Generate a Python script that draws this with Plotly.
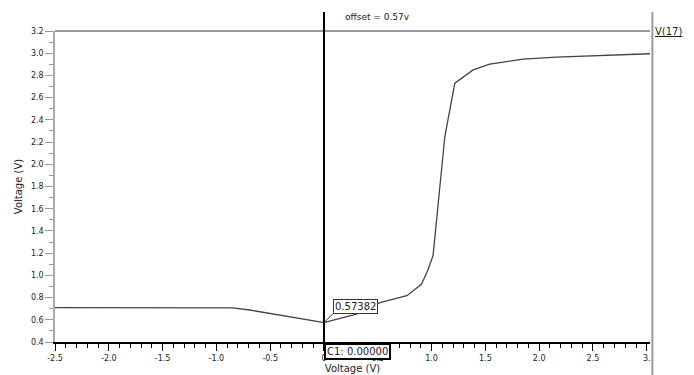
import plotly.graph_objects as go

# Data
sweep_v = [-2.5, -0.85, -0.69, -0.41, -0.23, 0.0, 0.15, 0.30, 0.52, 0.77, 0.906, 0.967,
           1.014, 1.061, 1.123, 1.216, 1.386, 1.54, 1.85, 2.16, 2.63, 3.03]
out_v = [0.71, 0.707, 0.688, 0.643, 0.613, 0.574, 0.613, 0.65, 0.754, 0.817, 0.92, 1.05,
         1.18, 1.65, 2.25, 2.73, 2.85, 2.902, 2.947, 2.965, 2.98, 2.995]
x_tick_vals = [-2.5, -2.0, -1.5, -1.0, -0.5, 0.0, 0.5, 1.0, 1.5, 2.0, 2.5, 3.0]
x_tick_text = ["-2.5", "-2.0", "-1.5", "-1.0", "-0.5", "0", "0.5", "1.0", "1.5", "2.0", "2.5", "3."]
y_tick_vals = [0.4, 0.6, 0.8, 1.0, 1.2, 1.4, 1.6, 1.8, 2.0, 2.2, 2.4, 2.6, 2.8, 3.0, 3.2]
cursor_x = 0.0
cursor_y = 0.57382
trace_name = "V(17)"

FONT = "DejaVu Sans"

fig = go.Figure()
fig.add_trace(go.Scatter(x=sweep_v, y=out_v, mode="lines",
                         line=dict(color="#444444", width=1.3),
                         name=trace_name, showlegend=False, hoverinfo="skip"))

fig.update_layout(
    width=686, height=367,
    margin=dict(l=47, r=44, t=23, b=33, autoexpand=False),
    paper_bgcolor="white", plot_bgcolor="white",
    font=dict(family=FONT, size=8, color="#222222"),
    xaxis=dict(range=[-2.5, 3.03], tickvals=x_tick_vals, ticktext=x_tick_text,
               automargin=False,
               ticks="outside", ticklen=7, tickcolor="black", tickwidth=1,
               showline=True, linecolor="black", linewidth=2,
               showgrid=False, zeroline=False,
               tickfont=dict(family=FONT, size=8, color="#222222"),
               minor=dict(dtick=0.1, tick0=-2.5, ticks="outside", ticklen=4,
                          tickcolor="black", showgrid=False),
               title=dict(text="Voltage (V)", standoff=1,
                          font=dict(family=FONT, size=10, color="#222222"))),
    yaxis=dict(range=[0.4, 3.2], tickvals=y_tick_vals, tickformat=".1f",
               automargin=False,
               ticks="outside", ticklen=8, tickcolor="#999999", tickwidth=1,
               showline=True, linecolor="#aaaaaa", linewidth=1.5,
               showgrid=False, zeroline=False,
               tickfont=dict(family=FONT, size=8, color="#222222"),
               minor=dict(dtick=0.1, tick0=0.4, ticks="outside", ticklen=4,
                          tickcolor="#999999", showgrid=False),
               title=dict(text="Voltage (V)", standoff=6,
                          font=dict(family=FONT, size=10, color="#222222"))),
)

# top border line
fig.add_shape(type="line", xref="paper", yref="paper", x0=0, x1=1, y0=1, y1=1,
              line=dict(color="#777777", width=1.5))
# right border line
fig.add_shape(type="line", xref="paper", yref="paper", x0=1.004, x1=1.004, y0=-0.11, y1=1.061,
              line=dict(color="#999999", width=2))
# cursor line
fig.add_shape(type="line", xref="x", yref="paper", x0=cursor_x, x1=cursor_x, y0=0, y1=1.061,
              line=dict(color="black", width=2))

fig.add_annotation(xref="paper", yref="paper", x=(343 - 55) / 595, y=1 + (31 - 17) / 311,
                   text="offset = 0.57v", showarrow=False, xanchor="left", yanchor="middle",
                   font=dict(family=FONT, size=9, color="#222222"))
fig.add_annotation(xref="paper", yref="paper", x=(653 - 55) / 595, y=1 + (31 - 32) / 311,
                   text="<u>" + trace_name + "</u>", showarrow=False, xanchor="left", yanchor="middle",
                   font=dict(family=FONT, size=10, color="#222222"))
fig.add_annotation(xref="x", yref="y", x=cursor_x, y=cursor_y,
                   text=f"{cursor_y:.5f}", showarrow=True, arrowhead=0, arrowwidth=1,
                   arrowcolor="#333333", ax=9, ay=-9, xanchor="left", yanchor="bottom",
                   bordercolor="#333333", borderwidth=1, borderpad=1, bgcolor="white",
                   font=dict(family=FONT, size=10, color="#222222"))
fig.add_annotation(xref="x", yref="paper", x=cursor_x, y=-0.003,
                   text=f"C1: {cursor_x:.5f}", showarrow=False, xanchor="left", yanchor="top",
                   bordercolor="black", borderwidth=2, borderpad=1, bgcolor="white",
                   font=dict(family=FONT, size=10, color="#222222"))

fig.write_html("out.html")
